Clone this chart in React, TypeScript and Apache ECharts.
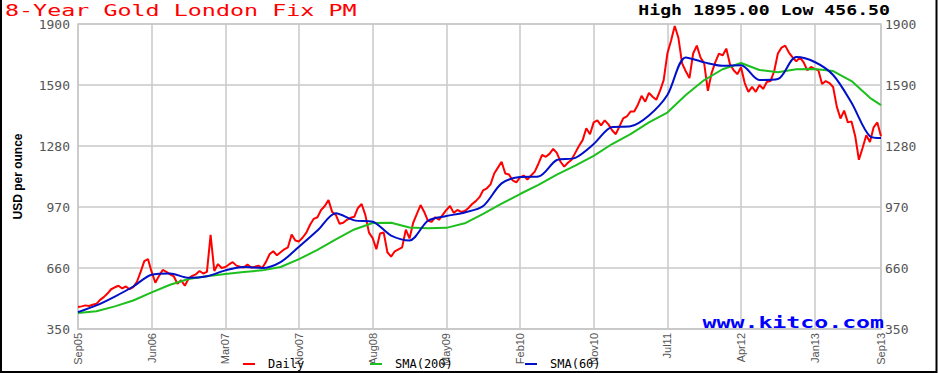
import React, { useEffect, useRef } from "react";
import * as echarts from "echarts";

const tickLabels = ["Sep05", "Jun06", "Mar07", "Nov07", "Aug08", "May09", "Feb10", "Nov10", "Jul11", "Apr12", "Jan13", "Sep13"];
const TICK_STEP = 20;
const SMA_STEP = 5;

const daily = [
  462, 465, 470, 467, 473, 478, 498, 512, 530, 552, 562, 570, 556, 566, 552, 563, 590, 640, 695, 705,
  640, 585, 620, 650, 640, 628, 618, 580, 598, 570, 605, 620, 628, 645, 632, 640, 828, 645, 680, 660,
  665, 678, 690, 672, 666, 662, 678, 662, 666, 672, 660, 690, 730, 745, 725, 740, 755, 765, 830, 800,
  795, 815, 840, 880, 910, 918, 955, 975, 1005, 945, 930, 885, 890, 905, 915, 920, 965, 985, 930, 840,
  812, 755, 835, 840, 740, 718, 745, 755, 765, 855, 810, 890, 935, 980, 945, 900, 895, 918, 905, 930,
  955, 975, 940, 955, 945, 950, 965, 985, 1000, 1020, 1055, 1065, 1085, 1140, 1170, 1200, 1140, 1135, 1105, 1095,
  1120, 1130, 1110, 1130, 1150, 1190, 1235, 1225, 1240, 1265, 1245, 1200, 1175, 1195, 1210, 1245, 1280, 1310, 1370, 1340,
  1400, 1410, 1385, 1410, 1390, 1360, 1340, 1380, 1420, 1430, 1455, 1455, 1490, 1535, 1505, 1550, 1530, 1515, 1560, 1615,
  1750, 1815, 1890, 1830, 1700, 1660, 1625, 1750, 1790, 1730, 1700, 1560, 1650, 1705, 1750, 1740, 1775, 1695, 1665, 1645,
  1680, 1600, 1555, 1580, 1555, 1590, 1570, 1605, 1610, 1660, 1750, 1780, 1790, 1755, 1730, 1710, 1730, 1705, 1665, 1682,
  1672, 1665, 1595, 1610, 1600, 1580, 1480, 1420, 1460, 1400, 1405, 1330, 1210, 1270, 1335, 1300, 1375, 1400, 1330,
];

const sma200 = [
  431, 440, 465, 495, 536, 575, 604, 618, 629, 640, 648, 665, 705, 752, 806, 856, 889, 890, 866, 862,
  864, 887, 935, 987, 1036, 1082, 1135, 1180, 1230, 1290, 1340, 1400, 1450, 1539, 1615, 1670, 1702, 1666, 1655, 1670,
  1671, 1661, 1610, 1525, 1488,
];

const sma60 = [
  436, 470, 515, 566, 626, 632, 610, 618, 648, 665, 660, 690, 768, 850, 938, 902, 895, 825, 800, 900,
  924, 942, 975, 1090, 1122, 1125, 1209, 1220, 1290, 1376, 1380, 1435, 1539, 1730, 1705, 1688, 1690, 1615, 1620, 1732,
  1707, 1641, 1500, 1330, 1321,
];

const yMin = 350;
const yMax = 1900;
const yInterval = 310;

const titleText = "8-Year Gold London Fix PM";
const rangeText = "High 1895.00 Low 456.50";
const siteText = "www.kitco.com";

const lastIdx = daily.length - 1;
const categories = daily.map((_, i) =>
  i % TICK_STEP === 0 ? tickLabels[i / TICK_STEP] : i === lastIdx ? tickLabels[tickLabels.length - 1] : ""
);
const isTick = (i: number) => i % TICK_STEP === 0 || i === lastIdx;
const toPairs = (arr: number[]) => arr.map((v, i) => [Math.min(i * SMA_STEP, lastIdx), v]);

const MONO = '"DejaVu Sans Mono", "Liberation Mono", monospace';
const SANS = '"Liberation Sans Narrow", "Liberation Sans", sans-serif';

export default function App() {
  const ref = useRef<HTMLDivElement>(null);
  useEffect(() => {
    if (!ref.current) return;
    const chart = echarts.init(ref.current, undefined, { renderer: "svg" });
    const legendBase = {
      top: 358,
      padding: 0,
      icon: "rect",
      itemWidth: 12,
      itemHeight: 2,
      textStyle: { fontFamily: MONO, fontSize: 12, color: "#000", padding: [0, 0, 0, 8] },
    };
    const fmt = (v: number) => String(v);
    chart.setOption({
      animation: false,
      backgroundColor: "#fff",
      legend: [
        { ...legendBase, left: 243, data: ["Daily"] },
        { ...legendBase, left: 370, data: ["SMA(200)"] },
        { ...legendBase, left: 525, data: ["SMA(60)"] },
      ],
      grid: {
        left: 78,
        right: 57,
        top: 24,
        bottom: 44,
        show: true,
        borderColor: "#c8c8c8",
        borderWidth: 1.5,
      },
      xAxis: {
        type: "category",
        boundaryGap: false,
        data: categories,
        axisLine: { lineStyle: { color: "#c8c8c8", width: 1.5 } },
        axisTick: { show: false },
        axisLabel: {
          interval: (i: number) => isTick(i),
          rotate: 90,
          margin: 4,
          fontFamily: SANS,
          fontSize: 11,
          color: "#555",
        },
        splitLine: {
          show: true,
          interval: (i: number) => isTick(i),
          lineStyle: { color: "#c8c8c8", width: 1.5 },
        },
      },
      yAxis: [
        {
          type: "value",
          min: yMin,
          max: yMax,
          interval: yInterval,
          name: "USD per ounce",
          nameLocation: "middle",
          nameGap: 54,
          nameTextStyle: { fontFamily: SANS, fontSize: 12, fontWeight: "bold", color: "#000" },
          axisLine: { show: false },
          axisTick: { show: false },
          axisLabel: { margin: 8, fontFamily: MONO, fontSize: 13, color: "#555", formatter: fmt },
          splitLine: { show: true, lineStyle: { color: "#c8c8c8", width: 1.5 } },
        },
        {
          type: "value",
          position: "right",
          min: yMin,
          max: yMax,
          interval: yInterval,
          axisLine: { show: false },
          axisTick: { show: false },
          axisLabel: { margin: 4, fontFamily: MONO, fontSize: 13, color: "#555", formatter: fmt },
          splitLine: { show: false },
        },
      ],
      series: [
        {
          name: "Daily",
          type: "line",
          data: daily,
          showSymbol: false,
          symbol: "none",
          lineStyle: { color: "#ff0000", width: 2 },
          itemStyle: { color: "#ff0000" },
        },
        {
          name: "SMA(200)",
          type: "line",
          data: toPairs(sma200),
          showSymbol: false,
          symbol: "none",
          lineStyle: { color: "#1cbf1c", width: 2 },
          itemStyle: { color: "#1cbf1c" },
        },
        {
          name: "SMA(60)",
          type: "line",
          data: toPairs(sma60),
          showSymbol: false,
          symbol: "none",
          smooth: 0.3,
          lineStyle: { color: "#0010c8", width: 2 },
          itemStyle: { color: "#0010c8" },
        },
      ],
      graphic: [
        {
          type: "text",
          x: 5,
          y: 10,
          scaleX: 1.46,
          style: {
            text: titleText,
            fontFamily: MONO,
            fontSize: 16,
            fill: "#ff0000",
            align: "left",
            verticalAlign: "middle",
          },
        },
        {
          type: "text",
          x: 890,
          y: 10,
          scaleX: 1.3,
          style: {
            text: rangeText,
            fontFamily: MONO,
            fontSize: 14,
            fontWeight: "bold",
            fill: "#000",
            align: "right",
            verticalAlign: "middle",
          },
        },
        {
          type: "text",
          x: 884,
          y: 323,
          scaleX: 1.45,
          z: 100,
          style: {
            text: siteText,
            fontFamily: MONO,
            fontSize: 16,
            fontWeight: "bold",
            fill: "#0000ff",
            align: "right",
            verticalAlign: "middle",
          },
        },
        {
          type: "rect",
          shape: { x: 1, y: -5, width: 935.5, height: 377 },
          style: { fill: "none", stroke: "#000", lineWidth: 2 },
          silent: true,
        },
      ],
    });
    return () => chart.dispose();
  }, []);
  return (
    <div
      ref={ref}
      style={{ position: "absolute", left: 0, top: 0, width: 938, height: 373 }}
    />
  );
}
